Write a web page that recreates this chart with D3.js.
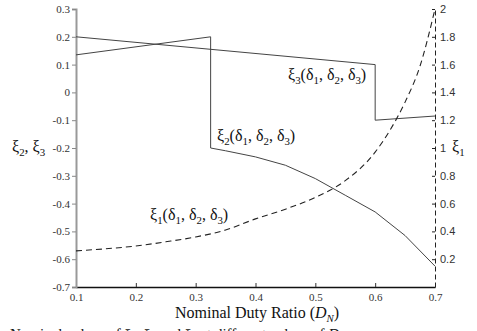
<!DOCTYPE html>
<html>
<head>
<meta charset="utf-8">
<script src="https://cdn.jsdelivr.net/npm/d3@7"></script>
<style>
  body { margin: 0; background: #fff; }
  svg { display: block; }
  .serif { font-family: "Liberation Serif", "DejaVu Serif", serif; }
</style>
</head>
<body>
<div id="chart"></div>
<script>
// duty ratio / value pairs
const xi1Duty = [0.1, 0.15, 0.2, 0.25, 0.3, 0.35, 0.4, 0.45, 0.5, 0.55, 0.6, 0.625, 0.65, 0.675, 0.7];
const xi1Vals = [0.26, 0.275, 0.295, 0.325, 0.36, 0.41, 0.49, 0.56, 0.645, 0.765, 0.97, 1.13, 1.33, 1.59, 2.0];

const xi2Duty = [0.1, 0.325, 0.325, 0.35, 0.4, 0.45, 0.5, 0.55, 0.6, 0.65, 0.7];
const xi2Vals = [0.135, 0.2, -0.2, -0.21, -0.232, -0.262, -0.31, -0.37, -0.43, -0.515, -0.625];

const xi3Duty = [0.1, 0.6, 0.6, 0.7];
const xi3Vals = [0.2, 0.1, -0.1, -0.085];

const xTicks = [0.1, 0.2, 0.3, 0.4, 0.5, 0.6, 0.7];
const leftTicks = [-0.7, -0.6, -0.5, -0.4, -0.3, -0.2, -0.1, 0, 0.1, 0.2, 0.3];
const rightTicks = [0.2, 0.4, 0.6, 0.8, 1, 1.2, 1.4, 1.6, 1.8, 2];

const width = 477, height = 331;
const margin = {left: 76, right: 42, top: 9, bottom: 44};

const svg = d3.select('#chart').append('svg')
    .attr('width', width)
    .attr('height', height);

const x = d3.scaleLinear().domain([0.1, 0.7]).range([margin.left, width - margin.right]);
const yL = d3.scaleLinear().domain([-0.7, 0.3]).range([height - margin.bottom, margin.top]);
const yR = d3.scaleLinear().domain([0, 2]).range([height - margin.bottom, margin.top]);

const fmt = d => String(+d.toFixed(1));

// bottom axis, ticks pointing inward
const gx = svg.append('g')
    .attr('transform', 'translate(0,' + (height - margin.bottom) + ')')
    .call(d3.axisBottom(x).tickValues(xTicks).tickFormat(fmt).tickSizeInner(-4).tickSizeOuter(0).tickPadding(6));
gx.select('.domain').attr('stroke', '#111').attr('stroke-width', 1.4);
gx.selectAll('.tick line').attr('stroke', '#333');
gx.selectAll('text').attr('class', 'serif').attr('font-size', 11).attr('fill', '#333');

// left axis (grey)
const gl = svg.append('g')
    .attr('transform', 'translate(' + margin.left + ',0)')
    .call(d3.axisLeft(yL).tickValues(leftTicks).tickFormat(fmt).tickSize(4).tickPadding(2));
gl.select('.domain').attr('stroke', '#999').attr('stroke-width', 2);
gl.selectAll('.tick line').attr('stroke', '#888');
gl.selectAll('text').attr('class', 'serif').attr('font-size', 11).attr('fill', '#333');

// right axis, dashed line with inward ticks
const gr = svg.append('g')
    .attr('transform', 'translate(' + (width - margin.right) + ',0)')
    .call(d3.axisRight(yR).tickValues(rightTicks).tickFormat(fmt).tickSizeInner(-3).tickSizeOuter(0).tickPadding(5));
gr.select('.domain').attr('stroke', '#222').attr('stroke-dasharray', '5,3');
gr.selectAll('.tick line').attr('stroke', '#222');
gr.selectAll('text').attr('font-family', '"Liberation Sans", Arial, sans-serif')
    .attr('font-size', 11).attr('fill', '#333');

const lineL = d3.line().x(d => x(d[0])).y(d => yL(d[1]));
const lineR = d3.line().x(d => x(d[0])).y(d => yR(d[1])).curve(d3.curveMonotoneX);

svg.append('path')
    .datum(d3.zip(xi3Duty, xi3Vals))
    .attr('d', lineL)
    .attr('fill', 'none').attr('stroke', '#444').attr('stroke-width', 1);

svg.append('path')
    .datum(d3.zip(xi2Duty, xi2Vals))
    .attr('d', lineL)
    .attr('fill', 'none').attr('stroke', '#444').attr('stroke-width', 1);

svg.append('path')
    .datum(d3.zip(xi1Duty, xi1Vals))
    .attr('d', lineR)
    .attr('fill', 'none').attr('stroke', '#222').attr('stroke-width', 1.1)
    .attr('stroke-dasharray', '6,4');

// text with subscripts: parts = [text, sub?, italic?]
const sz = 16;
function label(px, py, parts, size) {
    const t = svg.append('text').attr('class', 'serif')
        .attr('x', px).attr('y', py)
        .attr('font-size', size).attr('fill', '#111');
    let down = false;
    parts.forEach(p => {
        const s = t.append('tspan').text(p[0]);
        if (p[2]) s.attr('font-style', 'italic');
        if (p[1]) {
            s.attr('font-size', size * 0.68).attr('dy', size * 0.25);
            down = true;
        } else if (down) {
            s.attr('dy', -size * 0.25);
            down = false;
        }
    });
    return t;
}

function delta(name, px, py) {
    return label(px, py, [
        ['ξ'], [name, true], ['(δ'], ['1', true], [', δ'], ['2', true], [', δ'], ['3', true], [')']
    ], sz);
}
delta('3', 288, 80);
delta('2', 217, 141);
delta('1', 150, 220);

// axis titles
label(12, 152, [['ξ'], ['2', true], [', ξ'], ['3', true]], sz);
label(452, 152, [['ξ'], ['1', true]], sz);
label(175, 318, [['Nominal Duty Ratio ('], ['D', false, true], ['N', true, true], [')']], sz);

// caption line, cut off by the bottom edge
label(10, 339, [['Nominal values of ξ'], ['1', true], [', ξ'], ['2', true], [' and ξ'], ['3', true],
    [' at different values of '], ['D', false, true], ['N', true, true]], 15);
</script>
</body>
</html>
